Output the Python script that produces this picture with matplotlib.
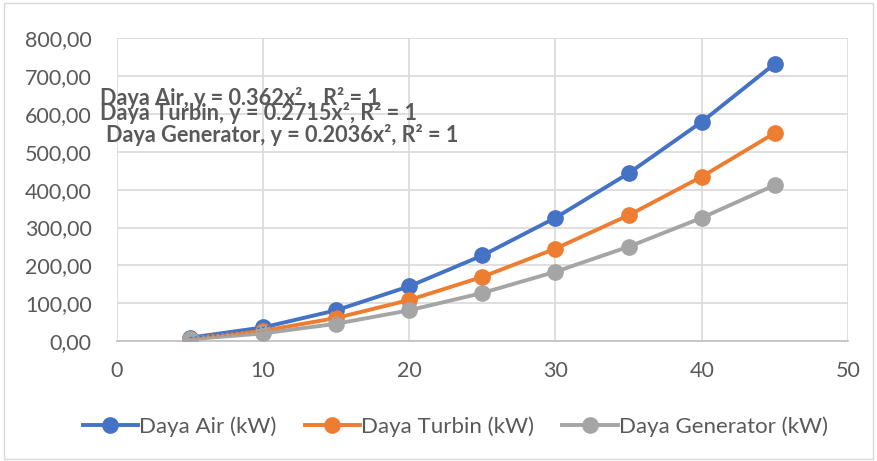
import numpy as np
import matplotlib.pyplot as plt
from matplotlib.ticker import FuncFormatter, MultipleLocator
from matplotlib.patches import Rectangle

# Data
debit = [5, 10, 15, 20, 25, 30, 35, 40, 45]
daya_air = [9.05, 36.2, 81.45, 144.8, 226.25, 325.8, 443.45, 579.2, 733.05]
daya_turbin = [6.79, 27.15, 61.09, 108.6, 169.69, 244.35, 332.59, 434.4, 549.79]
daya_generator = [5.09, 20.36, 45.81, 81.44, 127.25, 183.24, 249.41, 325.76, 412.29]

series = [
    ("Daya Air (kW)", daya_air, "#4472C4"),
    ("Daya Turbin (kW)", daya_turbin, "#ED7D31"),
    ("Daya Generator (kW)", daya_generator, "#A5A5A5"),
]
trend_labels = [
    "Daya Air, y = 0.362x² ,  R² = 1",
    "Daya Turbin, y = 0.2715x², R² = 1",
    "Daya Generator, y = 0.2036x², R² = 1",
]

plt.rcParams["font.family"] = ["Lato", "DejaVu Sans"]

fig = plt.figure(figsize=(8.77, 4.61), dpi=100)
fig.patches.append(Rectangle((0.004, 0.004), 0.992, 0.99, transform=fig.transFigure,
                             fill=False, edgecolor="#D9D9D9", lw=1))
ax = fig.add_axes([0.133, 0.26, 0.834, 0.657])

for nama, nilai, warna in series:
    ax.plot(debit, nilai, color=warna, lw=2.8, marker="o", ms=11, label=nama, zorder=3)
    # trendline (polynomial fit through the data)
    k = np.polyfit(debit, nilai, 2)
    xs = np.linspace(debit[0], debit[-1], 100)
    ax.plot(xs, np.polyval(k, xs), color=warna, lw=1, ls=(0, (2, 1.5)), zorder=4)

ax.set_xlim(0, 50)
ax.set_ylim(0, 800)
ax.xaxis.set_major_locator(MultipleLocator(10))
ax.yaxis.set_major_locator(MultipleLocator(100))
ax.yaxis.set_major_formatter(FuncFormatter(lambda v, p: f"{v:.2f}".replace(".", ",")))
ax.grid(True, color="#D9D9D9", lw=1.2)
ax.set_axisbelow(True)
for s in ["top", "right", "left"]:
    ax.spines[s].set_visible(False)
ax.spines["bottom"].set_color("#BFBFBF")
ax.spines["bottom"].set_linewidth(1.2)
ax.tick_params(length=0, labelsize=15.5, colors="#595959")
ax.tick_params(axis="y", pad=18)
ax.tick_params(axis="x", pad=14)

ypos = [0.787, 0.755, 0.708]
xpos = [0.114, 0.114, 0.121]
for t, xx, yy in zip(trend_labels, xpos, ypos):
    fig.text(xx, yy, t, fontsize=15.6, fontweight="bold", color="#595959",
             va="center", ha="left")

ax.legend(loc="center", bbox_to_anchor=(0.519, 0.075), bbox_transform=fig.transFigure,
          ncol=3, frameon=False, fontsize=16, labelcolor="#595959",
          handlelength=2.5, handletextpad=0.05, columnspacing=1.25)

fig.savefig("out.png", dpi=100)
